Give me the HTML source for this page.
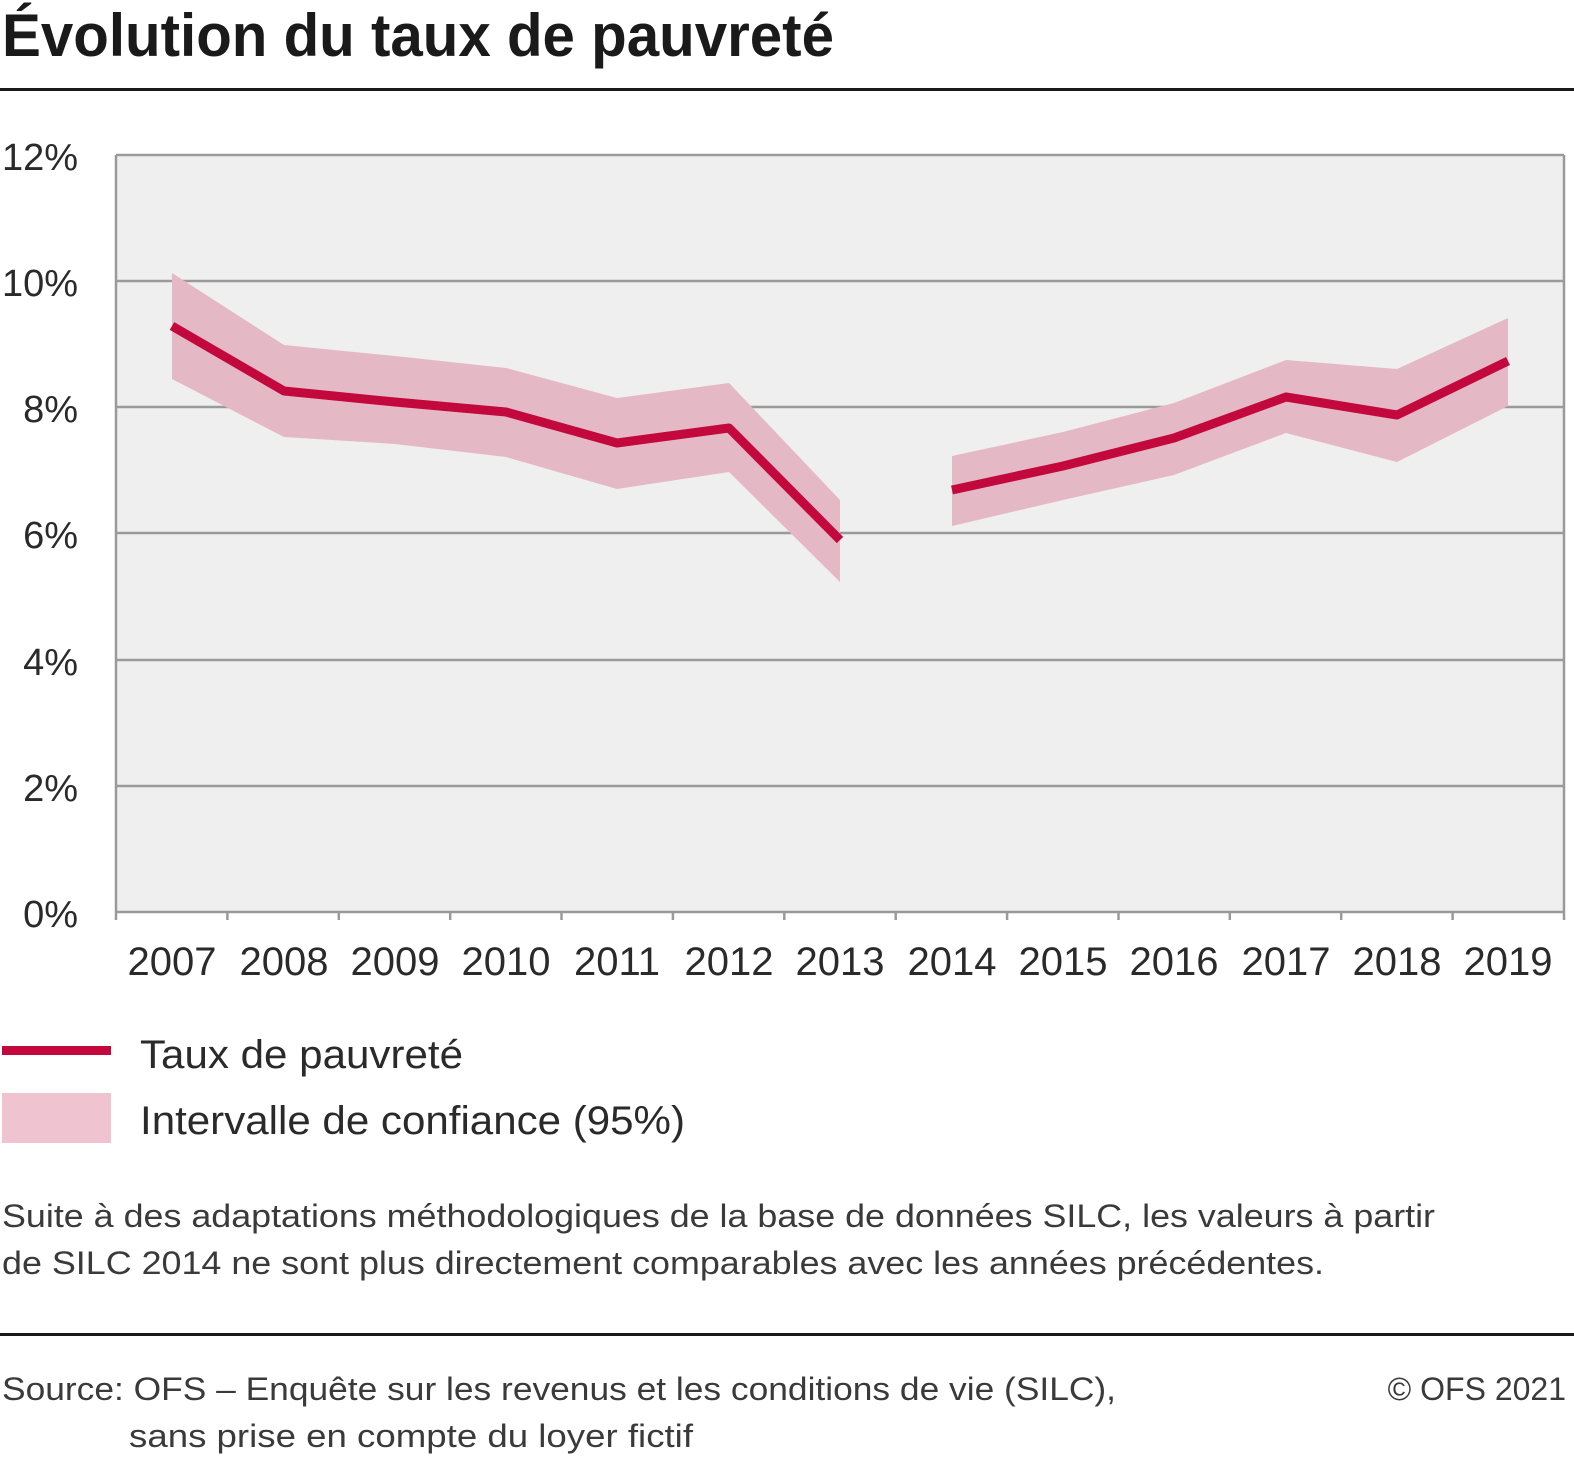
<!DOCTYPE html>
<html><head><meta charset="utf-8"><style>
html,body{margin:0;padding:0;background:#fff;}
svg{display:block;font-family:"Liberation Sans",sans-serif;}
</style></head><body>
<svg width="1574" height="1463" viewBox="0 0 1574 1463" xmlns="http://www.w3.org/2000/svg">
<text x="2" y="56" font-size="60" font-weight="bold" fill="#1a1a1a" textLength="832" lengthAdjust="spacingAndGlyphs">Évolution du taux de pauvreté</text>
<rect x="0" y="88" width="1574" height="3" fill="#1a1a1a"/>
<rect x="116" y="155" width="1448" height="757" fill="#efefef"/>
<g stroke="#9a9a9a" stroke-width="2.5">
<line x1="116" y1="155" x2="1564" y2="155"/>
<line x1="116" y1="281" x2="1564" y2="281"/>
<line x1="116" y1="407" x2="1564" y2="407"/>
<line x1="116" y1="533" x2="1564" y2="533"/>
<line x1="116" y1="660" x2="1564" y2="660"/>
<line x1="116" y1="786" x2="1564" y2="786"/>
<line x1="116" y1="155" x2="116" y2="912"/>
<line x1="1564" y1="155" x2="1564" y2="912"/>
<line x1="116" y1="912" x2="1564" y2="912"/>
<line x1="116" y1="912" x2="116" y2="920"/><line x1="227.4" y1="912" x2="227.4" y2="920"/><line x1="338.8" y1="912" x2="338.8" y2="920"/><line x1="450.2" y1="912" x2="450.2" y2="920"/><line x1="561.5" y1="912" x2="561.5" y2="920"/><line x1="672.9" y1="912" x2="672.9" y2="920"/><line x1="784.3" y1="912" x2="784.3" y2="920"/><line x1="895.7" y1="912" x2="895.7" y2="920"/><line x1="1007.1" y1="912" x2="1007.1" y2="920"/><line x1="1118.5" y1="912" x2="1118.5" y2="920"/><line x1="1229.8" y1="912" x2="1229.8" y2="920"/><line x1="1341.2" y1="912" x2="1341.2" y2="920"/><line x1="1452.6" y1="912" x2="1452.6" y2="920"/><line x1="1564" y1="912" x2="1564" y2="920"/>
</g>
<polygon fill="#e5b8c5" points="172,273 284,345 395,356 506,368 617,398 729,383 840,500 840,582 729,472 617,489 506,457 395,444 284,437 172,379"/>
<polygon fill="#e5b8c5" points="952,456 1063,432 1174,403 1286,360 1397,369 1508,318 1508,406 1397,462 1286,433 1174,475 1063,500 952,526"/>
<polyline fill="none" stroke="#c2083d" stroke-width="9" stroke-linejoin="round" points="172,326 284,391 395,402 506,412 617,443 729,428 840,540"/>
<polyline fill="none" stroke="#c2083d" stroke-width="9" stroke-linejoin="round" points="952,490 1063,466 1174,438 1286,397 1397,415 1508,361"/>
<g font-size="38" fill="#2a2a2a" text-anchor="end">
<text x="78" y="170">12%</text><text x="78" y="296">10%</text><text x="78" y="422">8%</text><text x="78" y="548">6%</text><text x="78" y="675">4%</text><text x="78" y="801">2%</text><text x="78" y="927">0%</text>
</g>
<g font-size="40" fill="#2a2a2a" text-anchor="middle">
<text x="172" y="975">2007</text><text x="284" y="975">2008</text><text x="395" y="975">2009</text><text x="506" y="975">2010</text><text x="617" y="975">2011</text><text x="729" y="975">2012</text><text x="840" y="975">2013</text><text x="952" y="975">2014</text><text x="1063" y="975">2015</text><text x="1174" y="975">2016</text><text x="1286" y="975">2017</text><text x="1397" y="975">2018</text><text x="1508" y="975">2019</text>
</g>
<rect x="2" y="1046" width="109" height="9" fill="#c2083d"/>
<rect x="2" y="1093" width="109" height="50" fill="#efc4d0"/>
<text x="140" y="1068" font-size="40" fill="#2a2a2a" textLength="323" lengthAdjust="spacingAndGlyphs">Taux de pauvreté</text>
<text x="140" y="1134" font-size="40" fill="#2a2a2a" textLength="545" lengthAdjust="spacingAndGlyphs">Intervalle de confiance (95%)</text>
<text x="2" y="1227" font-size="32" fill="#3a3a3a" textLength="1433" lengthAdjust="spacingAndGlyphs">Suite à des adaptations méthodologiques de la base de données SILC, les valeurs à partir</text>
<text x="2" y="1274" font-size="32" fill="#3a3a3a" textLength="1322" lengthAdjust="spacingAndGlyphs">de SILC 2014 ne sont plus directement comparables avec les années précédentes.</text>
<rect x="0" y="1333" width="1574" height="3" fill="#1a1a1a"/>
<text x="2" y="1400" font-size="32" fill="#3a3a3a" textLength="1114" lengthAdjust="spacingAndGlyphs">Source: OFS – Enquête sur les revenus et les conditions de vie (SILC),</text>
<text x="129" y="1447" font-size="32" fill="#3a3a3a" textLength="564" lengthAdjust="spacingAndGlyphs">sans prise en compte du loyer fictif</text>
<text x="1566" y="1400" font-size="32" fill="#3a3a3a" text-anchor="end">© OFS 2021</text>
</svg>
</body></html>
